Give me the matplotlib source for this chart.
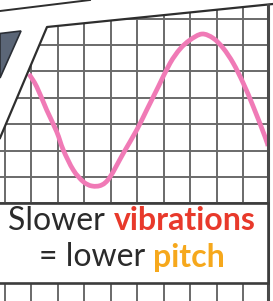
import numpy as np
import matplotlib
matplotlib.use("Agg")
import matplotlib.pyplot as plt
from matplotlib.patches import Polygon, Rectangle, PathPatch
from matplotlib.path import Path

# Curva de la onda (pixeles: x, y hacia abajo)
onda_x = [29, 36.7, 46.7, 56.7, 63.3, 73.3, 83.3, 92, 101.7, 110, 123.3, 136.7,
          146.7, 158.3, 170, 180, 190, 202, 213.3, 223.3, 233.3, 243.3, 253.3, 265, 268]
onda_y = [74, 86.7, 110, 131.7, 150, 170, 181.7, 186, 185, 177, 153.3, 130,
          110, 86.7, 63.3, 49, 40, 34, 38.3, 48.3, 63.3, 83.3, 106.7, 136.7, 146]

# Textos
linea1 = [("Slower ", "#2b2b2b", "normal"), ("vibrations", "#e8392b", "bold")]
linea2 = [("= lower ", "#2b2b2b", "normal"), ("pitch", "#f6a81c", "bold")]

W, H = 273, 301
fig = plt.figure(figsize=(W / 100, H / 100), dpi=100)
ax = fig.add_axes([0, 0, 1, 1])
ax.set_xlim(0, W)
ax.set_ylim(H, 0)
ax.axis("off")

# Hoja cuadriculada (borde inclinado arriba a la izquierda)
hoja = [(47, 27), (268, 4.5), (268, 301), (0, 301), (0, 138)]
papel = Polygon(hoja, closed=True, facecolor="white", edgecolor="none", zorder=1)
ax.add_patch(papel)

gx = 4.5 + 26.5 * np.arange(10)
gy = 18.5 + 26.4 * np.arange(12)
for x in gx:
    l, = ax.plot([x, x], [0, H], color="#6a6a6a", lw=1.4, zorder=2)
    l.set_clip_path(papel)
for y in gy:
    l, = ax.plot([0, W], [y, y], color="#6a6a6a", lw=1.4, zorder=2)
    l.set_clip_path(papel)

# Onda: curva suave que pasa por los puntos leidos (segmentos Bezier)
p = np.column_stack([onda_x, onda_y])
verts = [tuple(p[0])]
codes = [Path.MOVETO]
for i in range(len(p) - 1):
    a = p[i - 1] if i > 0 else p[i]
    b, c = p[i], p[i + 1]
    d = p[i + 2] if i + 2 < len(p) else p[i + 1]
    verts += [tuple(b + (c - a) / 6), tuple(c - (d - b) / 6), tuple(c)]
    codes += [Path.CURVE4] * 3
onda = PathPatch(Path(verts, codes), facecolor="none", edgecolor="#f07ab6",
                 lw=3.4, capstyle="butt", joinstyle="round", zorder=3)
ax.add_patch(onda)
onda.set_clip_path(papel)

# Bordes de la hoja
ax.plot([0, 47, 273], [138, 27, 4], color="#2e2e2e", lw=1.6, zorder=4)
ax.plot([268, 268], [4.5, H], color="#4a4a4a", lw=2.2, zorder=4)

# Otra hoja arriba a la izquierda
ax.plot([0, 90], [11, 0], color="#2e2e2e", lw=1.4, zorder=4)
ax.add_patch(Polygon([(0, 33.5), (21, 31), (0, 78)], closed=True,
                     facecolor="#5b6677", edgecolor="#2b2f36", lw=1.2, zorder=4))

# Caja de texto
ax.add_patch(Rectangle((-2, gy[7]), 270, gy[10] - gy[7], facecolor="white",
                       edgecolor="#3c3c3c", lw=1.9, zorder=5))

fig.canvas.draw()
r = fig.canvas.get_renderer()


def linea_color(partes, yc, size):
    textos = []
    for s, c, w in partes:
        t = ax.text(0, yc, s, color=c, fontsize=size, fontweight=w, family="Lato",
                    va="center", ha="left", zorder=6)
        textos.append(t)
    anchos = [t.get_window_extent(r).width for t in textos]
    x0 = 132 - sum(anchos) / 2
    for t, a in zip(textos, anchos):
        t.set_x(x0)
        x0 += a


linea_color(linea1, 221, 23)
linea_color(linea2, 257, 23)

fig.savefig("out.png", dpi=100)
